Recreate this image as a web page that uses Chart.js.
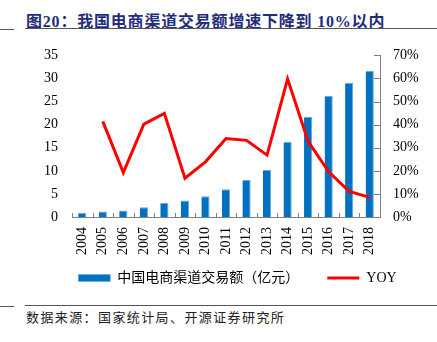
<!DOCTYPE html>
<html>
<head>
<meta charset="utf-8">
<script src="https://cdn.jsdelivr.net/npm/chart.js@4.4.1/dist/chart.umd.min.js"></script>
<style>
  html, body { margin: 0; padding: 0; background: #fff; }
  body { width: 437px; height: 342px; position: relative; overflow: hidden; }
  .title {
    position: absolute; left: 26px; top: 8px;
    font-family: "Liberation Serif", "Noto Sans CJK SC", serif;
    font-weight: bold; font-size: 16px; letter-spacing: 0.8px;
    color: #1f2d7b; white-space: nowrap;
  }
  .rule { position: absolute; background: #555; height: 1px; }
  .source {
    position: absolute; left: 26px; top: 307px;
    font-family: "Liberation Serif", "Noto Sans CJK SC", serif;
    font-size: 13px; letter-spacing: 1.4px; color: #222; white-space: nowrap;
  }
  #wrap { position: absolute; left: 0; top: 33px; width: 437px; height: 262px; }
</style>
</head>
<body>
<div class="title">图20：我国电商渠道交易额增速下降到 10%以内</div>
<div class="rule" style="left:25px; right:0; top:28px;"></div>
<div class="rule" style="left:0; width:14px; top:29px;"></div>
<div id="wrap"><canvas id="chart"></canvas></div>
<div class="rule" style="left:25px; right:0; top:305px;"></div>
<div class="rule" style="left:0; width:14px; top:306px;"></div>
<div class="source">数据来源：国家统计局、开源证券研究所</div>

<script>
const years = ['2004', '2005', '2006', '2007', '2008', '2009', '2010', '2011',
               '2012', '2013', '2014', '2015', '2016', '2017', '2018'];
// 交易额（亿元）
const amount = [0.85, 1.2, 1.4, 2.1, 3.1, 3.6, 4.5, 6.0, 8.0, 10.2, 16.3, 21.7, 26.2, 29.1, 31.6];
// 同比增速（%）
const yoy = [null, 41.4, 19.2, 40.2, 44.9, 16.8, 23.9, 34.0, 33.2, 26.8, 59.8, 32.8, 19.6, 11.1, 8.5];
const leftTicks = [0, 5, 10, 15, 20, 25, 30, 35];
const rightTicks = [0, 10, 20, 30, 40, 50, 60, 70];

const axisGray = '#808080';
const tickFont = { family: "'Liberation Serif', 'Times New Roman', serif", size: 14 };

// tick marks pointing into the plot
const innerTicks = {
  id: 'innerTicks',
  afterLayout(chart) {
    // year labels hang below the axis box, widen its clip region
    const x = chart.scales.x;
    x.bottom = x.top + 45;
  },
  afterDraw(chart) {
    const { ctx, chartArea, scales } = chart;
    ctx.save();
    ctx.strokeStyle = axisGray;
    ctx.lineWidth = 1;
    ctx.beginPath();
    for (let i = 0; i <= years.length; i++) {
      const px = Math.round(scales.x.getPixelForValue(i - 0.5)) + 0.5;
      ctx.moveTo(px, chartArea.bottom);
      ctx.lineTo(px, chartArea.bottom - 4);
    }
    rightTicks.forEach(v => {
      const py = Math.round(scales.y1.getPixelForValue(v)) + 0.5;
      ctx.moveTo(chartArea.right, py);
      ctx.lineTo(chartArea.right - 6, py);
    });
    ctx.stroke();
    ctx.restore();
  }
};

new Chart(document.getElementById('chart'), {
  data: {
    labels: years,
    datasets: [{
      type: 'line',
      label: 'YOY',
      data: yoy,
      yAxisID: 'y1',
      borderColor: '#ff0000',
      backgroundColor: '#ff0000',
      borderWidth: 3,
      pointRadius: 0,
      pointStyle: 'line',
      tension: 0,
      order: 0
    }, {
      type: 'bar',
      label: '中国电商渠道交易额（亿元）',
      data: amount,
      yAxisID: 'y',
      backgroundColor: '#0070c0',
      borderColor: '#6aa6dc',
      borderWidth: { top: 1, right: 1, left: 0, bottom: 0 },
      borderSkipped: false,
      pointStyle: 'rect',
      categoryPercentage: 1,
      barPercentage: 0.4,
      order: 1
    }]
  },
  options: {
    responsive: true,
    maintainAspectRatio: false,
    animation: false,
    layout: { padding: { top: 2, bottom: 0, left: 38, right: 0 } },
    plugins: {
      tooltip: { enabled: false },
      legend: {
        position: 'bottom',
        reverse: true,
        labels: {
          usePointStyle: true,
          pointStyleWidth: 32,
          boxWidth: 32,
          boxHeight: 7,
          padding: 28,
          color: '#000',
          font: { family: "'Liberation Serif', 'Noto Sans CJK SC', serif", size: 14 }
        }
      }
    },
    scales: {
      x: {
        grid: { display: false, drawTicks: false },
        border: { display: true, color: axisGray },
        ticks: { minRotation: 90, maxRotation: 90, padding: 10, autoSkip: false, color: '#000', font: tickFont },
        afterFit(scale) { scale.height = 26; }
      },
      y: {
        position: 'left',
        min: 0, max: 35,
        grid: { display: false, drawTicks: false },
        border: { display: false },
        afterBuildTicks(scale) { scale.ticks = leftTicks.map(v => ({ value: v })); },
        ticks: { padding: 14, autoSkip: false, color: '#000', font: tickFont },
        afterFit(scale) { scale.width = 34; }
      },
      y1: {
        position: 'right',
        min: 0, max: 70,
        grid: { display: false, drawTicks: false },
        border: { display: true, color: axisGray },
        afterBuildTicks(scale) { scale.ticks = rightTicks.map(v => ({ value: v })); },
        ticks: { padding: 13, autoSkip: false, color: '#000', font: tickFont, callback: v => v + '%' },
        afterFit(scale) { scale.width = 57; }
      }
    }
  },
  plugins: [innerTicks]
});
</script>
</body>
</html>
